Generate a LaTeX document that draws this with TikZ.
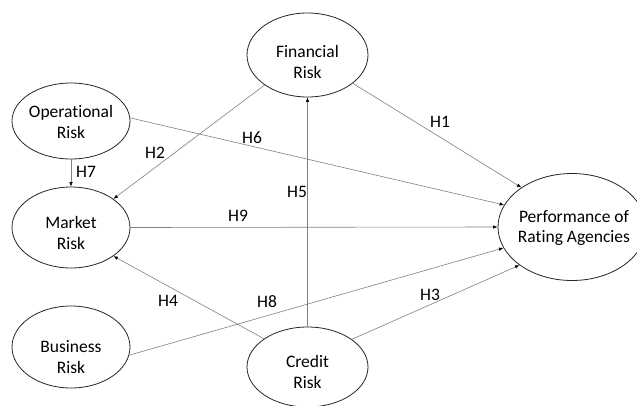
\documentclass[tikz,border=0pt]{standalone}
\usepackage{fontspec}
\setmainfont{Carlito}[Ligatures=NoCommon]
\usetikzlibrary{shapes.geometric,arrows.meta}
\begin{document}
\begin{tikzpicture}[x=1pt,y=-1pt,
  ell/.style={ellipse,draw=black!85,line width=0.8pt,inner sep=0pt},
  txt/.style={align=center,font=\fontsize{17.5}{20.5}\selectfont,inner sep=0pt},
  hl/.style={font=\fontsize{17.5}{20}\selectfont,inner sep=0pt},
  conn/.style={draw=black!50,line width=0.6pt,-{Latex[length=4.5pt,width=3.5pt,color=black]}}
]
\useasboundingbox (0,0) rectangle (637,405);
\fill[white] (0,0) rectangle (637,405);
\clip (0,0) rectangle (637,405);

% ellipses
\node[ell,minimum width=121pt,minimum height=84pt] (fin) at (307.5,55) {};
\node[ell,minimum width=118pt,minimum height=76pt] (op) at (71,121) {};
\node[ell,minimum width=118pt,minimum height=81pt] (mkt) at (71,227.5) {};
\node[ell,minimum width=118pt,minimum height=82pt] (bus) at (71,347) {};
\node[ell,minimum width=121pt,minimum height=80pt] (cred) at (307.5,367) {};
\node[ell,minimum width=148pt,minimum height=107pt] (perf) at (572,227) {};

% texts
\node[txt] (finT) at (307.5,62) {Financial\\Risk};
\node[txt] (opT) at (71,122) {Operational\\Risk};
\node[txt] (mktT) at (71,233) {Market\\Risk};
\node[txt] (busT) at (71,357) {Business\\Risk};
\node[txt] (credT) at (307.5,372) {Credit\\Risk};
\node[txt] (perfT) at (574,228) {Performance of\\Rating Agencies};

% connectors
\draw[conn] (fin.-32) -- (perf.142.4);
\draw[conn] (fin.215.5) -- (mkt.34.7);
\draw[conn] (op.3) -- (perf.162.3);
\draw[conn] (op.270) -- (mkt.90);
\draw[conn] (mkt.0) -- (perf.180);
\draw[conn] (bus.-8.7) -- (perf.197.2);
\draw[conn] (cred.147.6) -- (mkt.-34.7);
\draw[conn] (cred.90) -- (fin.270);
\draw[conn] (cred.32.4) -- (perf.216.9);

% labels
\node[hl] (h1) at (440,122) {H1};
\node[hl] (h2) at (155,153) {H2};
\node[hl] (h3) at (430,295) {H3};
\node[hl] (h4) at (168,301) {H4};
\node[hl] (h5) at (297,192) {H5};
\node[hl] (h6) at (252,138) {H6};
\node[hl] (h7) at (86,172) {H7};
\node[hl] (h8) at (267,302) {H8};
\node[hl] (h9) at (238,216) {H9};
\end{tikzpicture}
\end{document}
